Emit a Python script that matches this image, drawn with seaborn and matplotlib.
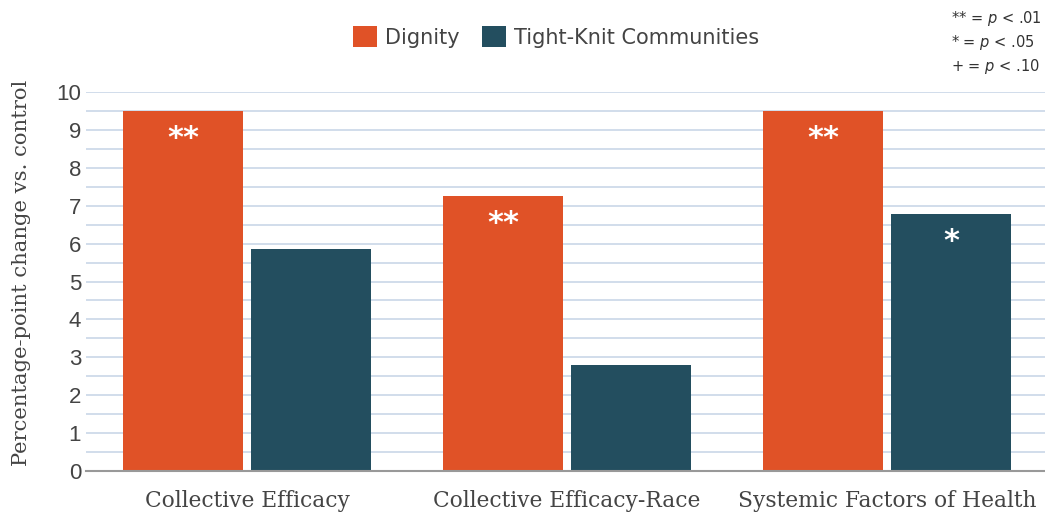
import matplotlib
matplotlib.use("Agg")
import matplotlib.pyplot as plt
import seaborn as sns
import pandas as pd

categories = ["Collective Efficacy", "Collective Efficacy-Race", "Systemic Factors of Health"]
series_names = ["Dignity", "Tight-Knit Communities"]
dignity_values = [9.5, 7.26, 9.5]
tkc_values = [5.86, 2.80, 6.78]
dignity_sig = ["**", "**", "**"]
tkc_sig = ["", "", "*"]
y_ticks = [0, 1, 2, 3, 4, 5, 6, 7, 8, 9, 10]
colors = ["#E05227", "#234E5F"]

df = pd.DataFrame({
    "category": categories * 2,
    "series": [series_names[0]] * 3 + [series_names[1]] * 3,
    "value": dignity_values + tkc_values,
})

sns.set_theme(style="white")
plt.rcParams["mathtext.fontset"] = "custom"
plt.rcParams["mathtext.it"] = "DejaVu Sans:italic"
plt.rcParams["mathtext.rm"] = "DejaVu Sans"

fig = plt.figure(figsize=(10.45, 5.17), dpi=100)
ax = fig.add_axes([86 / 1045, 1 - 471 / 517, 1 - 86 / 1045, 379 / 517])

sns.barplot(data=df, x="category", y="value", hue="series", order=categories,
            hue_order=series_names, palette=colors, width=0.8, gap=0.06,
            saturation=1, ax=ax, errorbar=None, linewidth=0)

ax.set_xlim(-0.503, 2.494)
ax.set_ylim(0, 10)
ax.set_yticks(y_ticks)
ax.set_yticks([t + 0.5 for t in y_ticks[:-1]], minor=True)
ax.grid(axis="y", which="both", color="#C9D7E8", linewidth=1.2)
ax.set_axisbelow(True)
for s in ["top", "right", "left"]:
    ax.spines[s].set_visible(False)
ax.spines["bottom"].set_color("#999999")
ax.spines["bottom"].set_linewidth(1.5)
ax.tick_params(axis="both", which="both", length=0)
ax.tick_params(axis="y", labelsize=16, labelcolor="#444444", pad=3.5)
for lab in ax.get_yticklabels():
    lab.set_fontfamily("Liberation Sans")
ax.tick_params(axis="x", labelsize=15.7, labelcolor="#444444", pad=14)
for lab in ax.get_xticklabels():
    lab.set_fontfamily("DejaVu Serif")
ax.set_xlabel("")
ax.set_ylabel("Percentage-point change vs. control", fontsize=15.2,
              color="#444444", family="DejaVu Serif")
ax.yaxis.set_label_coords(-0.057, 0.524)

for cont, sigs in zip(ax.containers, [dignity_sig, tkc_sig]):
    for bar, s in zip(cont, sigs):
        if s:
            ax.text(bar.get_x() + bar.get_width() / 2, bar.get_height() - 0.35, s,
                    ha="center", va="top", color="white", fontsize=22,
                    fontweight="bold", family="DejaVu Sans")

sns.move_legend(ax, "center", bbox_to_anchor=(0.49, 1.145), ncol=2, frameon=False,
                title=None, fontsize=15, handlelength=1.15, handleheight=1.15,
                handletextpad=0.38, columnspacing=1.1)
for t in ax.get_legend().get_texts():
    t.set_color("#444444")
    t.set_fontfamily("DejaVu Sans")

note_lines = ["** = $p$ < .01", "* = $p$ < .05", "+ = $p$ < .10"]
for i, line in enumerate(note_lines):
    fig.text(951 / 1045, 1 - (18 + 24.5 * i) / 517, line, ha="left", va="center",
             fontsize=10.5, color="#333333", family="DejaVu Sans")

fig.savefig("out.png", dpi=100)
